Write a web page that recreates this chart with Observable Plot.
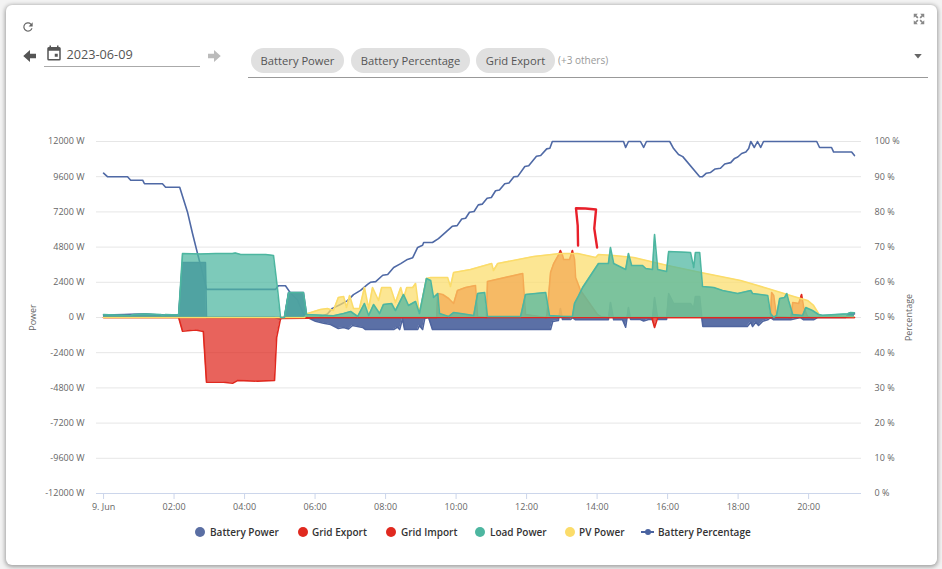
<!DOCTYPE html>
<html>
<head>
<meta charset="utf-8">
<script src="https://cdn.jsdelivr.net/npm/d3@7"></script>
<script src="https://cdn.jsdelivr.net/npm/@observablehq/plot@0.6"></script>
<style>
  html,body{margin:0;padding:0;width:942px;height:569px;overflow:hidden;background:#f3f3f3;font-family:"Open Sans",sans-serif}
  #page{position:relative;width:942px;height:569px}
  #card{position:absolute;left:6px;top:5px;width:931px;height:560px;background:#fff;border-radius:6px;box-shadow:0 1px 4px 1px rgba(0,0,0,.35)}
  #chart{position:absolute;left:0;top:0}
  .abs{position:absolute}
  .chip{position:absolute;top:48px;height:25px;line-height:25px;border-radius:13px;background:#e0e0e0;color:#555;font-size:11.2px;text-align:center}
  .leg{position:absolute;top:525px;height:14px;line-height:14px;font-size:10px;font-weight:600;color:#333;white-space:nowrap}
  .dot{position:absolute;top:527px;width:10px;height:10px;border-radius:50%}
</style>
</head>
<body>
<div id="page">
  <div id="card"></div>
  <div id="chart"></div>
  <svg class="abs" style="left:21px;top:20px" width="14" height="14" viewBox="0 0 24 24"><path fill="#666" d="M17.65 6.35A8 8 0 1 0 19.73 14h-2.08A6 6 0 1 1 12 6c1.66 0 3.14.69 4.22 1.78L13 11h7V4z"/></svg>
  <svg class="abs" style="left:21px;top:47px" width="18" height="18" viewBox="0 0 24 24"><path fill="#555" d="M20 9v6h-8v5l-9-8 9-8v5z"/></svg>
  <svg class="abs" style="left:45px;top:44px" width="18" height="18" viewBox="0 0 24 24"><path fill="#555" d="M19 4h-1V2h-2v2H8V2H6v2H5a2 2 0 0 0-2 2v14a2 2 0 0 0 2 2h14a2 2 0 0 0 2-2V6a2 2 0 0 0-2-2zm0 16H5V9h14zM13 13h4v4h-4z"/></svg>
  <div class="abs" style="left:66.500px;top:45px;font-size:12.700px;line-height:18px;color:#555">2023-06-09</div>
  <div class="abs" style="left:44px;top:66px;width:156px;height:1px;background:#aaa"></div>
  <svg class="abs" style="left:205px;top:47px" width="18" height="18" viewBox="0 0 24 24"><path fill="#bbb" d="M4 9v6h8v5l9-8-9-8v5z"/></svg>
  <div class="chip" style="left:251px;width:93px">Battery Power</div>
  <div class="chip" style="left:351px;width:119px">Battery Percentage</div>
  <div class="chip" style="left:476px;width:79px">Grid Export</div>
  <div class="abs" style="left:558px;top:53px;font-size:10px;line-height:14px;color:#999">(+3 others)</div>
  <div class="abs" style="left:248px;top:77px;width:680px;height:1px;background:#999"></div>
  <svg class="abs" style="left:914px;top:54px" width="8" height="4.500" viewBox="0 0 10 6"><path fill="#666" d="M0 0h10L5 6z"/></svg>
  <svg class="abs" style="left:912px;top:12px" width="14" height="14" viewBox="0 0 24 24"><path fill="#888" d="M3 3h7L7.500 5.500 11 9 9 11 5.500 7.500 3 10zM21 3v7l-2.500-2.500L15 11 13 9l3.500-3.500L14 3zM3 21v-7l2.500 2.500L9 13l2 2-3.500 3.500L10 21zM21 21h-7l2.500-2.500L13 15l2-2 3.500 3.500L21 14z"/></svg>

  <div class="dot" style="left:195px;background:#5a6ea3"></div><div class="leg" style="left:210px">Battery Power</div>
  <div class="dot" style="left:298px;background:#e0291f"></div><div class="leg" style="left:312px">Grid Export</div>
  <div class="dot" style="left:386px;background:#e0291f"></div><div class="leg" style="left:401px">Grid Import</div>
  <div class="dot" style="left:475px;background:#4db6a0"></div><div class="leg" style="left:490px">Load Power</div>
  <div class="dot" style="left:565px;background:#fbdc6a"></div><div class="leg" style="left:579px">PV Power</div>
  <div class="abs" style="left:641px;top:531px;width:13px;height:2px;background:#4a63a0"></div>
  <div class="abs" style="left:644.500px;top:529px;width:6px;height:6px;border-radius:50%;background:#4a63a0"></div>
  <div class="leg" style="left:658px">Battery Percentage</div>
</div>
<script>
// [hour of day, watts]
const batteryPower = [[0,170],[1.19,240],[1.62,170],[2.13,170],[2.24,3750],[2.89,3750],[2.92,0],[4.85,0],[5,-100],[5.13,0],[5.25,1705],[5.67,1705],[5.76,135],[5.79,0],[6.01,-250],[6.24,-390],[6.44,-475],[6.66,-750],[6.81,-680],[6.95,-785],[7.06,-545],[7.35,-680],[7.43,-820],[8.23,-820],[8.34,-660],[8.4,-820],[8.48,-70],[8.54,-820],[8.91,-820],[8.96,-545],[9.05,-820],[9.11,-70],[9.22,0],[9.33,-820],[12.68,-820],[12.74,-270],[12.9,-205],[12.96,615],[13.02,-135],[13.25,-135],[13.3,0],[13.39,-155],[14.32,-155],[14.38,1025],[14.47,-155],[14.72,-155],[14.81,-660],[14.89,680],[14.95,-135],[15.23,-135],[15.32,-240],[15.46,-135],[15.57,-135],[15.63,1365],[15.72,-135],[15.97,-135],[16.03,1635],[16.17,955],[16.65,955],[16.74,615],[16.79,1430],[16.91,1430],[16.97,0],[17,-615],[18.26,-615],[18.36,-320],[18.41,-615],[18.5,-320],[18.58,-545],[18.7,-250],[18.84,-155],[18.92,0],[19.01,-155],[19.49,-155],[19.77,0],[19.86,-155],[20.14,-155],[20.25,0],[21.05,0],[21.15,280],[21.3,250]];
const gridExport = [[0,0],[9.45,0],[9.48,1635],[9.62,1570],[9.79,1295],[9.93,955],[10.04,1840],[10.27,2045],[10.55,2180],[10.61,70],[10.86,0],[10.89,2455],[11.89,3000],[11.97,205],[12.55,0],[12.58,205],[12.68,3070],[12.77,3680],[12.9,4230],[12.96,4570],[13.02,4230],[13.05,3955],[13.22,3955],[13.3,4570],[13.36,3955],[13.39,2730],[13.53,1840],[14.01,205],[14.1,70],[14.3,0],[18.92,0],[18.95,1705],[19.01,1500],[19.09,70],[19.5,0],[19.55,1025],[19.72,955],[19.8,1570],[19.86,680],[19.97,70],[20.06,0],[21.3,0]];
const gridImport = [[0,0],[2.13,0],[2.24,-935],[2.47,-885],[2.61,-850],[2.83,-955],[2.92,-4410],[3.4,-4410],[3.66,-4480],[3.8,-4295],[4.37,-4340],[4.85,-4295],[4.91,-1365],[5.02,-70],[5.8,-40],[6,0],[15.55,0],[15.63,-680],[15.72,0],[21.3,0]];
const pvPower = [[0,0],[5.7,0],[5.79,270],[6.15,545],[6.35,615],[6.52,475],[6.66,1365],[6.81,1430],[6.89,680],[6.98,1500],[7.09,615],[7.26,615],[7.4,2045],[7.52,615],[7.63,2045],[7.8,1160],[7.89,2045],[8.14,2045],[8.28,1025],[8.43,2045],[8.51,1295],[8.6,2045],[8.77,2045],[8.85,2320],[8.96,270],[9.16,2660],[9.28,2730],[9.76,2730],[9.84,2115],[9.93,3070],[10.41,3270],[11.01,3680],[11.06,3205],[11.18,3680],[12.2,4160],[12.96,4365],[13.45,4365],[13.96,4090],[14.04,4295],[14.47,4230],[15.04,4090],[16,3545],[16.94,3070],[18.07,2520],[18.84,1975],[19.58,1430],[19.97,1160],[20.14,820],[20.28,270],[20.34,135],[21.28,70]];
const loadPower = [[0,205],[0.31,170],[0.77,136],[0.85,205],[1.19,240],[1.62,205],[1.67,136],[1.76,205],[2.13,170],[2.24,4365],[2.75,4330],[3.18,4365],[3.66,4365],[3.74,4400],[3.89,4295],[4.31,4295],[4.6,4295],[4.82,4230],[4.94,1840],[5.02,0],[5.13,0],[5.25,1705],[5.67,1705],[5.76,205],[6.52,115],[6.81,270],[7.01,410],[7.21,70],[7.4,955],[7.52,135],[7.66,885],[7.83,270],[7.94,885],[8.17,955],[8.28,475],[8.51,1570],[8.65,820],[8.85,1090],[8.96,270],[9.16,2660],[9.28,2520],[9.36,1365],[9.48,1635],[9.53,270],[9.79,70],[9.93,340],[10.13,270],[10.5,135],[10.61,1635],[10.81,1705],[10.89,70],[11.83,70],[11.97,1570],[12.54,1705],[12.65,135],[12.96,90],[13.3,70],[13.36,955],[13.45,1365],[13.59,2045],[14.04,3680],[14.32,3680],[14.38,4770],[14.47,3680],[14.81,3270],[14.89,4365],[14.98,3545],[15.29,3545],[15.38,3340],[15.57,3270],[15.63,5660],[15.72,3270],[15.97,3135],[16.03,4500],[16.65,4430],[16.74,3410],[16.79,4430],[16.91,4430],[16.99,2115],[17.31,2045],[17.56,1840],[17.99,1635],[18.36,1840],[18.41,1635],[18.84,1500],[18.92,270],[19.01,20],[19.09,135],[19.18,1295],[19.32,1365],[19.38,1635],[19.43,1160],[19.55,205],[19.83,135],[19.92,680],[20.11,475],[20.28,205],[20.4,155],[21.11,250],[21.19,340],[21.3,320]];
// [hour of day, percent]
const batteryPercentage = [[0,91],[0.11,90],[0.68,90],[0.77,89],[1.11,89],[1.16,88],[1.67,88],[1.76,87],[2.16,87],[2.38,80],[2.52,74],[2.67,68],[2.81,62.5],[2.92,58],[4.88,58],[4.96,59],[5.16,59],[5.3,57],[5.5,55],[5.67,51],[5.79,50],[6.1,50],[6.35,51],[6.49,52.6],[6.72,53.7],[6.92,54.8],[7.09,56.5],[7.29,57.7],[7.49,59.4],[7.57,60],[7.72,60.2],[7.92,62],[8.06,62.2],[8.23,64.2],[8.43,65.3],[8.62,66.5],[8.77,67],[8.91,69.9],[9.05,70.5],[9.08,71.3],[9.33,71.3],[9.5,72.4],[9.7,74.2],[9.89,75.9],[10.03,76.1],[10.16,78],[10.27,78.2],[10.38,79.9],[10.51,80.1],[10.63,82],[10.74,82.2],[10.88,83.9],[11,84.1],[11.12,86],[11.23,86.2],[11.38,88],[11.5,88.2],[11.64,90],[11.75,90.1],[11.95,92.9],[12.06,93.1],[12.28,95.8],[12.4,96],[12.57,97.9],[12.66,98.1],[12.73,100],[14.75,100],[14.81,98.3],[14.89,100],[15.23,100],[15.32,98.3],[15.4,100],[16.06,100],[16.17,98],[16.31,96.3],[16.43,95.7],[16.91,90],[16.99,90],[17.1,91],[17.22,91.2],[17.35,92.2],[17.5,92.4],[17.62,93.6],[17.79,94],[17.9,95.2],[17.99,95.6],[18.1,96.6],[18.22,97],[18.3,98],[18.36,100],[18.46,98.3],[18.55,100],[18.64,98.3],[18.72,100],[20.23,100],[20.31,98.3],[20.65,98.3],[20.71,97],[21.22,97],[21.3,96]];
// hand-drawn red annotation on the screenshot, in the same [hour, watts] terms
const handMark = [[13.46,4910],[13.45,6270],[13.4,7450],[13.67,7430],[13.97,7365],[13.92,6070],[14,4770]];

const xTicks = [0,2,4,6,8,10,12,14,16,18,20];
const xLabels = ["9. Jun","02:00","04:00","06:00","08:00","10:00","12:00","14:00","16:00","18:00","20:00"];
const powerTicks = [12000,9600,7200,4800,2400,0,-2400,-4800,-7200,-9600,-12000];
const percentTicks = [100,90,80,70,60,50,40,30,20,10,0];

const colors = {battery:"#4f659f", red:"#e0291f", load:"#4db6a0", pv:"#fbdc6a", pct:"#4f69a5"};
const pctToPower = p => p * 240 - 12000;
const H = d => d[0], V = d => d[1];

const areaOf = (rows, color, opacity) => [
  Plot.areaY(rows, {x: H, y1: 0, y2: V, fill: color, fillOpacity: opacity}),
  Plot.lineY(rows, {x: H, y: V, stroke: color, strokeWidth: 1.6})
];

const plot = Plot.plot({
  width: 942, height: 569,
  marginLeft: 96, marginRight: 81, marginTop: 141, marginBottom: 76,
  style: {fontFamily: "'Open Sans',sans-serif", fontSize: "9px", background: "transparent"},
  x: {domain: [-0.2, 21.5], axis: null},
  y: {domain: [-12000, 12000], axis: null},
  marks: [
    Plot.gridY(powerTicks.slice(0, -1), {stroke: "#e6e6e6", strokeOpacity: 1}),
    Plot.ruleY([-12000], {stroke: "#ccd6eb"}),
    Plot.axisY({ticks: powerTicks, tickSize: 0, tickPadding: 12, fill: "#666", tickFormat: d => d + " W",
      label: "Power", labelAnchor: "center", labelArrow: "none", labelOffset: 67}),
    Plot.axisY({anchor: "right", ticks: percentTicks.map(pctToPower), tickSize: 0, tickPadding: 13, fill: "#666",
      tickFormat: d => Math.round((d + 12000) / 240) + " %",
      label: "Percentage", labelAnchor: "center", labelArrow: "none", labelOffset: 50}),
    Plot.axisX({ticks: xTicks, tickSize: 6, tickPadding: 4, stroke: "#ccd6eb", fill: "#666",
      tickFormat: d => xLabels[xTicks.indexOf(d)], label: null}),
    Plot.lineY(batteryPercentage, {x: H, y: d => pctToPower(d[1]), stroke: colors.pct, strokeWidth: 1.6}),
    ...areaOf(batteryPower, colors.battery, 0.93),
    ...areaOf(gridExport, colors.red, 0.73),
    ...areaOf(gridImport, colors.red, 0.73),
    ...areaOf(pvPower, colors.pv, 0.72),
    ...areaOf(loadPower, colors.load, 0.73),
    Plot.lineY(handMark, {x: H, y: V, stroke: "#e8202a", strokeWidth: 2.4})
  ]
});
document.getElementById("chart").appendChild(plot);
</script>
</body>
</html>
